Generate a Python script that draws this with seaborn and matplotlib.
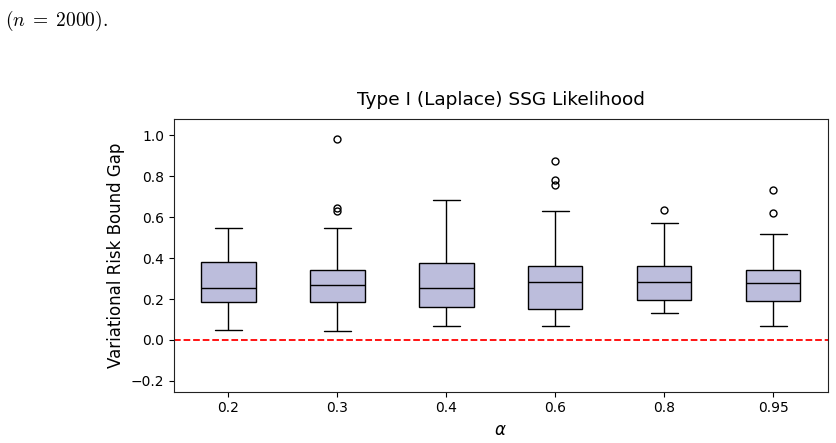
import matplotlib.pyplot as plt
import seaborn as sns
import pandas as pd

# alpha levels on the x axis
alphas = ['0.2', '0.3', '0.4', '0.6', '0.8', '0.95']

gap_02 = [0.047, 0.10, 0.14, 0.17, 0.184, 0.20, 0.22, 0.24, 0.255,
          0.28, 0.31, 0.35, 0.379, 0.42, 0.46, 0.50, 0.545]
gap_03 = [0.046, 0.11, 0.15, 0.17, 0.187, 0.21, 0.23, 0.25, 0.268,
          0.29, 0.31, 0.33, 0.340, 0.545, 0.629, 0.642, 0.980]
gap_04 = [0.068, 0.10, 0.13, 0.15, 0.163, 0.19, 0.21, 0.23, 0.252,
          0.28, 0.31, 0.34, 0.376, 0.45, 0.53, 0.61, 0.681]
gap_06 = [0.067, 0.09, 0.11, 0.13, 0.150, 0.19, 0.23, 0.26, 0.285,
          0.30, 0.32, 0.34, 0.363, 0.628, 0.755, 0.779, 0.875]
gap_08 = [0.133, 0.15, 0.17, 0.185, 0.197, 0.22, 0.24, 0.26, 0.285,
          0.30, 0.32, 0.34, 0.359, 0.42, 0.50, 0.571, 0.634]
gap_095 = [0.070, 0.11, 0.15, 0.175, 0.192, 0.21, 0.23, 0.25, 0.276,
           0.29, 0.31, 0.325, 0.341, 0.42, 0.519, 0.621, 0.733]

groups = [gap_02, gap_03, gap_04, gap_06, gap_08, gap_095]
rows = []
for a, vals in zip(alphas, groups):
    for v in vals:
        rows.append({'alpha': a, 'gap': v})
df = pd.DataFrame(rows)

sns.set_style('ticks')
plt.rcParams['mathtext.fontset'] = 'dejavusans'
plt.rcParams['text.color'] = 'black'
plt.rcParams['axes.labelcolor'] = 'black'
plt.rcParams['xtick.color'] = 'black'
plt.rcParams['ytick.color'] = 'black'
plt.rcParams['axes.edgecolor'] = '#222222'

fig = plt.figure(figsize=(8.36, 4.43), dpi=100)
ax = fig.add_axes([0.208, 0.116, 0.782, 0.615])

sns.boxplot(
    data=df, x='alpha', y='gap', order=alphas,
    width=0.5, color='#bcbddc', saturation=1,
    linecolor='black', linewidth=1,
    flierprops=dict(marker='o', markerfacecolor='none',
                    markeredgecolor='black', markersize=5),
    ax=ax)

ax.axhline(0, color='red', linestyle='--', linewidth=1.3)
ax.set_ylim(-0.252, 1.078)
ax.set_yticks([-0.2, 0.0, 0.2, 0.4, 0.6, 0.8, 1.0])
ax.tick_params(labelsize=10)
ax.set_xlabel(r'$\alpha$', fontsize=12)
ax.set_ylabel('Variational Risk Bound Gap', fontsize=12)
ax.set_title('Type I (Laplace) SSG Likelihood', fontsize=13.3, pad=10)

# caption fragment from the surrounding page
fig.text(0.006, 0.953, r'$(n\;=\;2000).$', fontsize=14, family='serif',
         math_fontfamily='cm', va='center', ha='left')

plt.savefig('out.png', dpi=100)
plt.close()
